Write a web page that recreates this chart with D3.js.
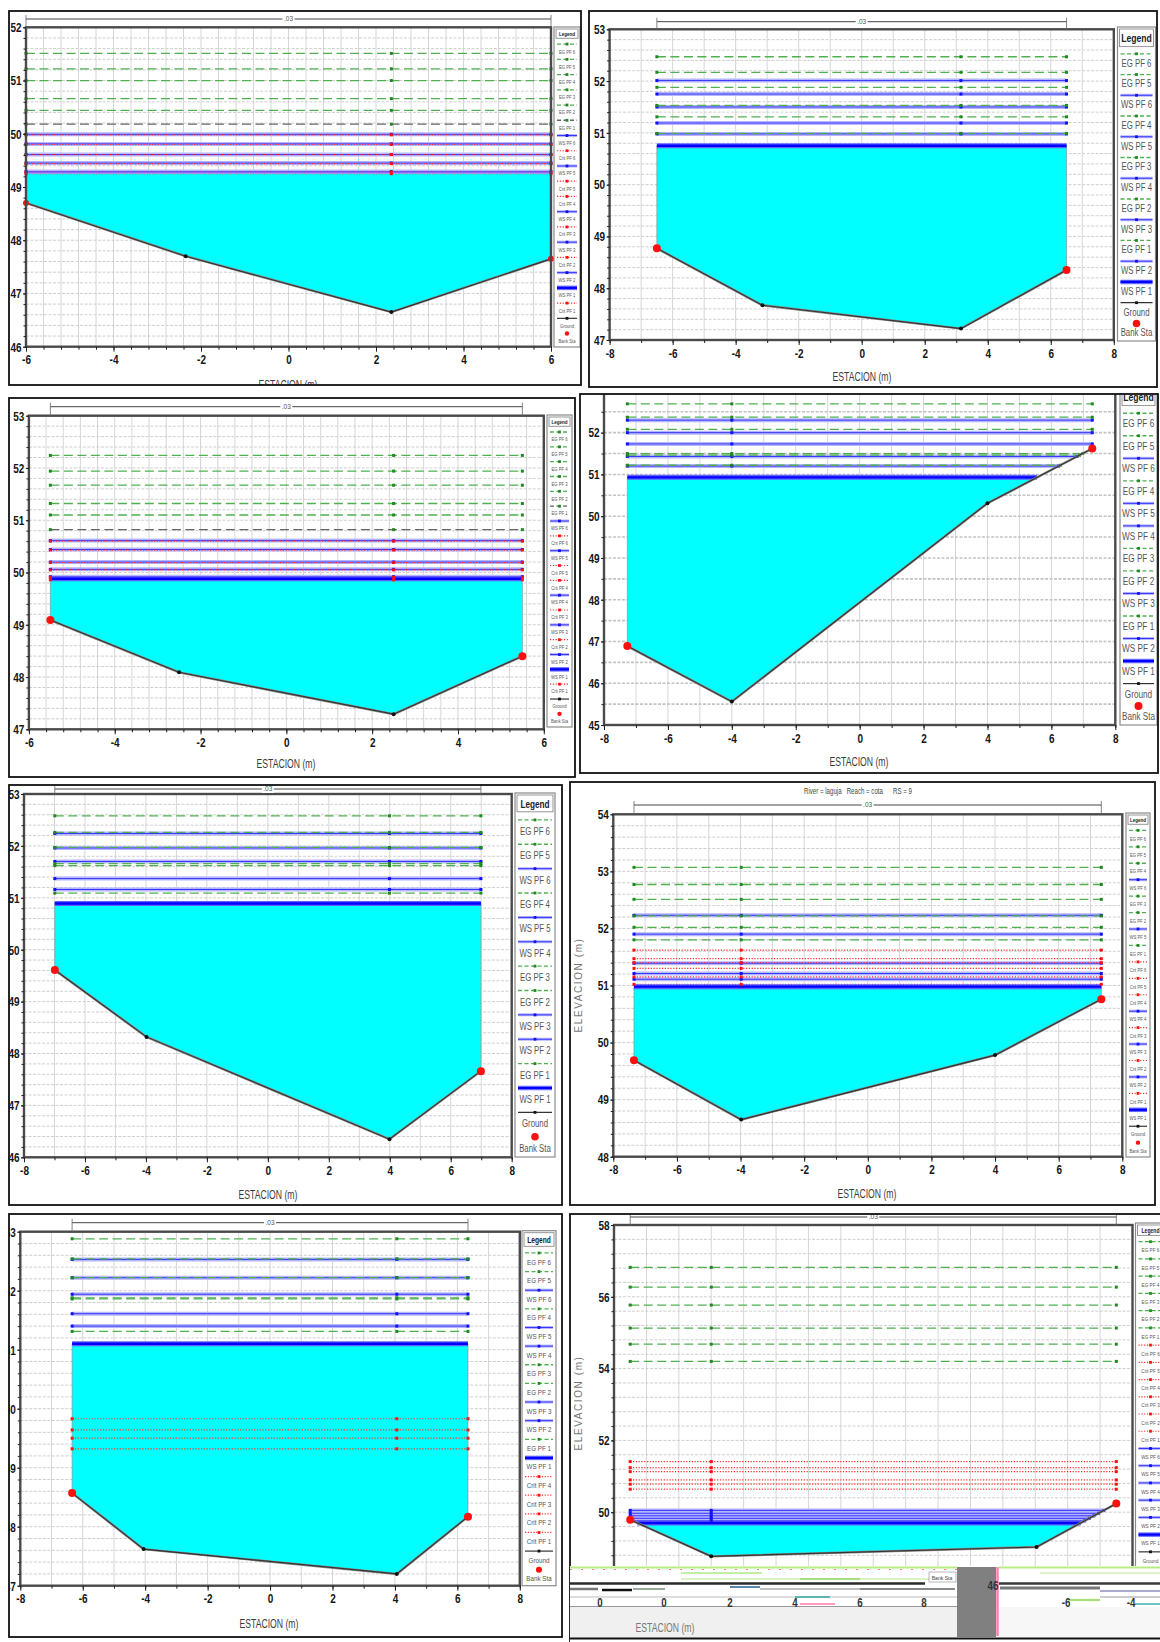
<!DOCTYPE html>
<html>
<head>
<meta charset="utf-8">
<script src="https://cdn.jsdelivr.net/npm/d3@7"></script>
<style>
  body { margin: 0; background: #fff; }
  svg { display: block; }
</style>
</head>
<body>
<svg id="chart" width="1160" height="1642"></svg>
<script>
// ---- data (station m, elevation m) ----
const sta1 = [-6, -2.35, 2.35, 6];
const elev1 = [48.7, 47.7, 46.65, 47.65];
const eg1 = [51.51, 51.22, 51.0, 50.66, 50.44, 50.18];   // PF6 .. PF1
const ws1 = [49.99, 49.81, 49.61, 49.45, 49.29, 49.27];
const crit1 = [49.98, 49.80, 49.61, 49.44, 49.28, 49.25];

const sta2 = [-6.5, -3.15, 3.15, 6.5];
const elev2 = [48.77, 47.67, 47.22, 48.35];
const eg2 = [52.47, 52.17, 51.88, 51.53, 51.31, 50.99];
const ws2 = [52.01, 51.75, 51.50, 51.19, 50.98, 50.75];
const crit2 = [];

const sta3 = [-5.5, -2.5, 2.5, 5.5];
const elev3 = [49.09, 48.09, 47.29, 48.4];
const eg3 = [52.24, 51.94, 51.67, 51.32, 51.10, 50.82];
const ws3 = [50.61, 50.44, 50.20, 50.06, 49.92, 49.88];
const crit3 = [50.60, 50.43, 50.19, 50.05, 49.91, 49.86];

const sta4 = [-7.27, -4, 4, 7.28];
const elev4 = [46.89, 45.56, 50.31, 51.62];
const eg4 = [52.69, 52.37, 52.08, 51.50, 51.46, 51.22];
const ws4 = [52.30, 52.0, 51.73, 51.43, 51.20, 50.93];
const crit4 = [];

const sta5 = [-6.99, -3.98, 3.99, 6.99];
const elev5 = [49.61, 48.32, 46.35, 47.66];
const eg5 = [52.58, 52.26, 51.97, 51.66, 51.62, 51.09];
const ws5 = [52.24, 51.96, 51.70, 51.37, 51.16, 50.89];
const crit5 = [];

const sta6 = [-7.35, -3.98, 4.0, 7.34];
const elev6 = [49.69, 48.65, 49.78, 50.76];
const eg6 = [53.07, 52.77, 52.51, 52.22, 52.02, 51.80];
const ws6 = [52.23, 51.90, 51.39, 51.21, 51.11, 50.98];
const crit6 = [51.62, 51.47, 51.40, 51.30, 51.15, 51.02];

const sta7 = [-6.34, -4.05, 4.06, 6.34];
const elev7 = [48.57, 47.62, 47.2, 48.17];
const eg7 = [52.88, 52.54, 52.22, 51.88, 51.86, 51.31];
const ws7 = [52.53, 52.22, 51.94, 51.61, 51.40, 51.10];
const crit7 = [49.83, 49.64, 49.50, 49.32];               // PF4 .. PF1

const sta8 = [-7.5, -5.0, 5.04, 7.5];
const elev8 = [49.79, 48.77, 49.03, 50.24];
const eg8 = [56.82, 56.27, 55.77, 55.13, 54.68, 54.20];
const ws8 = [50.05, 49.97, 49.90, 49.83, 49.76, 49.70];
const crit8 = [51.41, 51.24, 51.13, 50.90, 50.78, 50.64];

// legends, in the order they are listed in each picture
const legend1 = ['EG PF 6','EG PF 5','EG PF 4','EG PF 3','EG PF 2','EG PF 1','WS PF 6','Crit PF 6','WS PF 5','Crit PF 5','Crit PF 4','WS PF 4','Crit PF 3','WS PF 3','Crit PF 2','WS PF 2','WS PF 1','Crit PF 1','Ground','Bank Sta'];
const legend2 = ['EG PF 6','EG PF 5','WS PF 6','EG PF 4','WS PF 5','EG PF 3','WS PF 4','EG PF 2','WS PF 3','EG PF 1','WS PF 2','WS PF 1','Ground','Bank Sta'];
const legend3 = ['EG PF 6','EG PF 5','EG PF 4','EG PF 3','EG PF 2','EG PF 1','WS PF 6','Crit PF 6','WS PF 5','Crit PF 5','Crit PF 4','WS PF 4','Crit PF 3','WS PF 3','Crit PF 2','WS PF 2','WS PF 1','Crit PF 1','Ground','Bank Sta'];
const legend4 = ['EG PF 6','EG PF 5','WS PF 6','EG PF 4','WS PF 5','WS PF 4','EG PF 3','EG PF 2','WS PF 3','EG PF 1','WS PF 2','WS PF 1','Ground','Bank Sta'];
const legend5 = ['EG PF 6','EG PF 5','WS PF 6','EG PF 4','WS PF 5','WS PF 4','EG PF 3','EG PF 2','WS PF 3','WS PF 2','EG PF 1','WS PF 1','Ground','Bank Sta'];
const legend6 = ['EG PF 6','EG PF 5','EG PF 4','WS PF 6','EG PF 3','EG PF 2','WS PF 5','EG PF 1','Crit PF 6','Crit PF 5','Crit PF 4','WS PF 4','Crit PF 3','WS PF 3','Crit PF 2','WS PF 2','Crit PF 1','WS PF 1','Ground','Bank Sta'];
const legend7 = ['EG PF 6','EG PF 5','WS PF 6','EG PF 4','WS PF 5','WS PF 4','EG PF 3','EG PF 2','WS PF 3','WS PF 2','EG PF 1','WS PF 1','Crit PF 4','Crit PF 3','Crit PF 2','Crit PF 1','Ground','Bank Sta'];
const legend8 = ['EG PF 6','EG PF 5','EG PF 4','EG PF 3','EG PF 2','EG PF 1','Crit PF 6','Crit PF 5','Crit PF 4','Crit PF 3','Crit PF 2','Crit PF 1','WS PF 6','WS PF 5','WS PF 4','WS PF 3','WS PF 2','WS PF 1','Ground','Bank Sta'];

// tick labels
const xTicks6 = [-6, -4, -2, 0, 2, 4, 6];
const xTicks8 = [-8, -6, -4, -2, 0, 2, 4, 6, 8];
const yTicks1 = [46, 47, 48, 49, 50, 51, 52];
const yTicks2 = [47, 48, 49, 50, 51, 52, 53];
const yTicks3 = [47, 48, 49, 50, 51, 52, 53];
const yTicks4 = [45, 46, 47, 48, 49, 50, 51, 52];
const yTicks5 = [46, 47, 48, 49, 50, 51, 52, 53];
const yTicks6 = [48, 49, 50, 51, 52, 53, 54];
const yTicks7 = [47, 48, 49, 50, 51, 52, 53];
const yTicks8 = [48, 50, 52, 54, 56, 58];

const xTitle = 'ESTACION (m)';
const yTitle = 'ELEVACION (m)';
const title6 = 'River = laguja   Reach = cota      RS = 9';
const nLabel = '.03';

// ---- layout of the eight panels ----
const panels = [
  {sta: sta1, elev: elev1, eg: eg1, ws: ws1, crit: crit1, legend: legend1, xTicks: xTicks6, yTicks: yTicks1,
   xd: [-6, 6], yd: [46, 52], mark: 2, darkEG1: true, thickWS1: false,
   frame: [9, 11, 572, 374], plot: [26, 27.3, 551, 346.7], xGrid: 0.4, yGrid: 0.2,
   lg: [554, 27, 26, 320], lgFs: 5.4, hdFs: 5.8, dimY: 19, xT: [288, 388.5], bank: 3},
  {sta: sta2, elev: elev2, eg: eg2, ws: ws2, crit: crit2, legend: legend2, xTicks: xTicks8, yTicks: yTicks2,
   xd: [-8, 8], yd: [47, 53], mark: 2, thickWS1: true,
   frame: [589, 11, 568, 376], plot: [609.6, 29.3, 1113.8, 340], xGrid: 1, yGrid: 0.2,
   lg: [1117.5, 27, 38, 314], lgFs: 10, hdFs: 11, dimY: 21.7, xT: [862, 381], bank: 4},
  {sta: sta3, elev: elev3, eg: eg3, ws: ws3, crit: crit3, legend: legend3, xTicks: xTicks6, yTicks: yTicks3,
   xd: [-6, 6], yd: [47, 53], mark: 2, darkEG1: true, thickWS1: true,
   frame: [9, 398, 566, 379], plot: [28.9, 415.7, 543.8, 729.3], xGrid: 0.4, yGrid: 0.2,
   lg: [547, 415, 25, 312], lgFs: 5.4, hdFs: 5.8, dimY: 406.7, xT: [286, 768], bank: 4},
  {sta: sta4, elev: elev4, eg: eg4, ws: ws4, crit: crit4, legend: legend4, xTicks: xTicks8, yTicks: yTicks4,
   xd: [-8, 8], yd: [45, 53], mark: 1, thickWS1: true,
   frame: [580, 394, 578, 379], plot: [604, 390.9, 1115.3, 725], xGrid: 1, yGrid: 0.5,
   lg: [1120, 386, 37, 339], lgFs: 10.5, hdFs: 11, dimY: 382, xT: [859, 766], bank: 4},
  {sta: sta5, elev: elev5, eg: eg5, ws: ws5, crit: crit5, legend: legend5, xTicks: xTicks8, yTicks: yTicks5,
   xd: [-8, 8], yd: [46, 53], mark: 2, thickWS1: true,
   frame: [9, 785, 553, 420], plot: [24, 794, 511.7, 1157.3], xGrid: 1, yGrid: 0.2,
   lg: [515, 793, 40, 364], lgFs: 10, hdFs: 10.5, dimY: 789, xT: [268, 1199], bank: 4},
  {sta: sta6, elev: elev6, eg: eg6, ws: ws6, crit: crit6, legend: legend6, xTicks: xTicks8, yTicks: yTicks6,
   xd: [-8, 8], yd: [48, 54], mark: 1, thickWS1: true,
   frame: [570, 782, 585, 423], plot: [613.3, 814.3, 1122.3, 1156.7], xGrid: 1, yGrid: 0.2,
   lg: [1126, 813, 24, 344], lgFs: 5.4, hdFs: 5.8, dimY: 805, xT: [867, 1198], yT: [578, 985],
   title: [858, 794], bank: 4},
  {sta: sta7, elev: elev7, eg: eg7, ws: ws7, crit: crit7, legend: legend7, xTicks: xTicks8, yTicks: yTicks7,
   xd: [-8, 8], yd: [47, 53], mark: 2, thickWS1: true,
   frame: [9, 1214, 553, 423], plot: [20.3, 1231.7, 519.8, 1585.7], xGrid: 1, yGrid: 0.2,
   lg: [522, 1230.7, 34, 355], lgFs: 8, hdFs: 8.5, dimY: 1222.7, xT: [269, 1628], bank: 4},
  {sta: sta8, elev: elev8, eg: eg8, ws: ws8, crit: crit8, legend: legend8, xTicks: xTicks8, yTicks: yTicks8,
   xd: [-8, 8], yd: [48, 58], mark: 1, thickWS1: true,
   frame: [570, 1214, 592, 430], plot: [614, 1225, 1132.5, 1584], xGrid: 1, yGrid: 0.4,
   lg: [1135.5, 1223, 30, 361], lgFs: 6, hdFs: 6.5, dimY: 1217, yT: [578, 1403], bank: 4}
];

const FONT = "'Liberation Sans',Arial,sans-serif";
const C = {
  eg: '#4fb04f', egDark: '#666', egMark: '#1f8a1f',
  wsHalo: '#b6b6ff', ws: '#3535ff', wsMark: '#1010ff',
  crit: '#ff3030', critMark: '#ff1010',
  water: '#00ffff', ground: '#333', bank: '#ff1010'
};

const svg = d3.select('#chart');
const defs = svg.append('defs');

// squeeze text horizontally, like the condensed font of the original program
function narrow(sel, f, maxW) {
  sel.each(function() {
    let t = this.getComputedTextLength() * f;
    if (maxW && t > maxW) t = maxW;
    d3.select(this).attr('textLength', t).attr('lengthAdjust', 'spacingAndGlyphs');
  });
}

// horizontal extent of a level h over the channel (where the ground is below h)
function span(sta, elev, h) {
  const m = d3.minIndex(elev);
  let xl = sta[0], xr = sta[sta.length - 1];
  for (let i = m; i > 0; i--) {
    if (elev[i - 1] >= h) { xl = sta[i] + (h - elev[i]) * (sta[i - 1] - sta[i]) / (elev[i - 1] - elev[i]); break; }
  }
  for (let i = m; i < sta.length - 1; i++) {
    if (elev[i + 1] >= h) { xr = sta[i] + (h - elev[i]) * (sta[i + 1] - sta[i]) / (elev[i + 1] - elev[i]); break; }
  }
  return [xl, xr];
}

function steps(a, b, s) {
  const n = Math.round((b - a) / s);
  return d3.range(n + 1).map(k => a + k * s);
}

function styleOf(name, p) {
  if (name === 'Ground') return {stroke: C.ground, w: 1.2, mark: '#111'};
  if (name === 'Bank Sta') return {bank: true};
  if (name.startsWith('EG')) return {stroke: (p.darkEG1 && name === 'EG PF 1') ? C.egDark : C.eg, w: 1.3, dash: '4,2.5', mark: C.egMark};
  if (name === 'WS PF 1') return {stroke: '#0000ff', w: 3.5, halo: '#6a6aff'};
  if (name.startsWith('WS')) return {stroke: C.ws, w: 1, halo: C.wsHalo, mark: C.wsMark};
  return {stroke: C.crit, w: 1.2, dash: '1.2,1.6', mark: C.critMark};
}

panels.forEach((p, i) => {
  const [fx, fy, fw, fh] = p.frame;
  const [px0, py0, px1, py1] = p.plot;
  const clipId = 'frame' + i;
  defs.append('clipPath').attr('id', clipId)
    .append('rect').attr('x', fx).attr('y', fy).attr('width', fw).attr('height', fh);

  const g = svg.append('g').attr('clip-path', `url(#${clipId})`);
  g.append('rect').attr('x', fx).attr('y', fy).attr('width', fw).attr('height', fh).attr('fill', '#fff');

  const x = d3.scaleLinear().domain(p.xd).range([px0, px1]);
  const y = d3.scaleLinear().domain(p.yd).range([py1, py0]);

  // grid
  const grid = g.append('g');
  grid.selectAll('line.gx').data(steps(p.xd[0], p.xd[1], p.xGrid)).enter().append('line')
    .attr('x1', d => x(d)).attr('x2', d => x(d)).attr('y1', py0).attr('y2', py1)
    .attr('stroke', '#d6d6d6').attr('stroke-width', 1);
  grid.selectAll('line.gy').data(steps(p.yd[0], p.yd[1], p.yGrid)).enter().append('line')
    .attr('x1', px0).attr('x2', px1).attr('y1', d => y(d)).attr('y2', d => y(d))
    .attr('stroke', p.yGrid >= 0.5 ? '#c4c4c4' : '#cfcfcf').attr('stroke-width', p.yGrid >= 0.5 ? 1.6 : 1)
    .attr('stroke-dasharray', '3,1.5');

  // series
  const series = [];
  p.ws.forEach((v, k) => series.push({name: 'WS PF ' + (p.ws.length - k), v}));
  p.crit.forEach((v, k) => series.push({name: 'Crit PF ' + (p.crit.length - k), v}));
  p.eg.forEach((v, k) => series.push({name: 'EG PF ' + (p.eg.length - k), v}));
  series.forEach(s => { s.ext = span(p.sta, p.elev, s.v); s.st = styleOf(s.name, p); });

  // water (WS PF 1)
  const w1 = series.find(s => s.name === 'WS PF 1');
  const [wl, wr] = w1.ext;
  const wpts = [[wl, w1.v]];
  p.sta.forEach((s, k) => { if (s >= wl - 1e-9 && s <= wr + 1e-9 && p.elev[k] < w1.v) wpts.push([s, p.elev[k]]); });
  wpts.push([wr, w1.v]);
  g.append('path')
    .attr('d', d3.line().x(d => x(d[0])).y(d => y(d[1]))(wpts) + 'Z')
    .attr('fill', C.water).attr('stroke', '#7a9a9a').attr('stroke-width', 0.7);

  const lines = g.append('g');
  function hline(s, stroke, w, dash) {
    lines.append('line')
      .attr('x1', x(s.ext[0])).attr('x2', x(s.ext[1])).attr('y1', y(s.v)).attr('y2', y(s.v))
      .attr('stroke', stroke).attr('stroke-width', w).attr('stroke-dasharray', dash || null);
  }
  const wsOther = series.filter(s => s.name.startsWith('WS') && s !== w1);
  const crits = series.filter(s => s.name.startsWith('Crit'));
  const egs = series.filter(s => s.name.startsWith('EG'));
  wsOther.forEach(s => hline(s, s.st.halo, 4));
  wsOther.forEach(s => hline(s, s.st.stroke, s.st.w));
  crits.forEach(s => hline(s, s.st.stroke, s.st.w, s.st.dash));
  egs.forEach(s => hline(s, s.st.stroke, s.st.w, '9,4.5'));
  if (p.thickWS1) {
    hline(w1, '#5f5fff', 5);
    hline(w1, '#0000ff', 2.4);
  } else {
    hline(w1, '#a8a8ff', 2);
    hline(w1, '#8a4aff', 0.8);
  }

  // point markers on each profile line
  const marks = g.append('g');
  series.filter(s => s !== w1).forEach(s => {
    const xs = [s.ext[0], p.sta[p.mark], s.ext[1]].filter(v => v >= s.ext[0] - 1e-6 && v <= s.ext[1] + 1e-6);
    marks.selectAll(null).data(xs).enter().append('rect')
      .attr('x', d => x(d) - 1.5).attr('y', y(s.v) - 1.5).attr('width', 3).attr('height', 3)
      .attr('fill', s.st.mark);
  });

  // ground
  const gp = p.sta.map((s, k) => [s, p.elev[k]]);
  g.append('path').attr('d', d3.line().x(d => x(d[0])).y(d => y(d[1]))(gp))
    .attr('fill', 'none').attr('stroke', '#888').attr('stroke-width', 2.4);
  g.append('path').attr('d', d3.line().x(d => x(d[0])).y(d => y(d[1]))(gp))
    .attr('fill', 'none').attr('stroke', C.ground).attr('stroke-width', 1.1);
  g.selectAll(null).data(gp.slice(1, -1)).enter().append('circle')
    .attr('cx', d => x(d[0])).attr('cy', d => y(d[1])).attr('r', 2).attr('fill', '#111');
  g.selectAll(null).data([gp[0], gp[gp.length - 1]]).enter().append('circle')
    .attr('cx', d => x(d[0])).attr('cy', d => y(d[1])).attr('r', p.bank).attr('fill', C.bank);

  // plot border
  g.append('rect').attr('x', px0).attr('y', py0).attr('width', px1 - px0).attr('height', py1 - py0)
    .attr('fill', 'none').attr('stroke', '#4a4a4a').attr('stroke-width', 2.4);

  // axes
  const ax = g.append('g').attr('transform', `translate(0,${py1})`)
    .call(d3.axisBottom(x).tickValues(p.xTicks).tickSize(5).tickSizeOuter(0).tickPadding(3).tickFormat(d => String(d)));
  g.append('g').attr('transform', `translate(0,${py1})`)
    .call(d3.axisBottom(x).tickValues(steps(p.xd[0], p.xd[1], p.xGrid)).tickSize(3).tickFormat(''))
    .call(a => a.select('.domain').remove());
  const ay = g.append('g').attr('transform', `translate(${px0},0)`)
    .call(d3.axisLeft(y).tickValues(p.yTicks).tickSize(3).tickSizeOuter(0).tickPadding(1.5).tickFormat(d => String(d)));
  g.append('g').attr('transform', `translate(${px0},0)`)
    .call(d3.axisLeft(y).tickValues(steps(p.yd[0], p.yd[1], p.yGrid)).tickSize(2.5).tickFormat(''))
    .call(a => a.select('.domain').remove());
  [ax, ay].forEach(a => {
    a.select('.domain').remove();
    a.selectAll('text').attr('font-family', FONT).attr('font-size', 13.5).attr('font-weight', 'bold').attr('fill', '#151515')
      .call(narrow, 0.74);
  });
  g.selectAll('.tick line').attr('stroke', '#222');

  // manning n bar on top
  const d0 = x(p.sta[0]), d1 = x(p.sta[p.sta.length - 1]);
  const dim = g.append('g');
  dim.append('line').attr('x1', d0).attr('x2', d1).attr('y1', p.dimY).attr('y2', p.dimY)
    .attr('stroke', '#444').attr('stroke-width', 1);
  dim.selectAll(null).data([d0, d1]).enter().append('line')
    .attr('x1', d => d).attr('x2', d => d).attr('y1', p.dimY - 4).attr('y2', py0)
    .attr('stroke', '#666').attr('stroke-width', 0.8);
  const mx = (d0 + d1) / 2;
  dim.append('rect').attr('x', mx - 6).attr('y', p.dimY - 4).attr('width', 12).attr('height', 8).attr('fill', '#fff');
  dim.append('text').attr('x', mx).attr('y', p.dimY + 2.2).attr('text-anchor', 'middle')
    .attr('font-family', FONT).attr('font-size', 6.5).attr('fill', '#555').text(nLabel);

  // titles
  if (p.xT) {
    g.append('text').attr('x', p.xT[0]).attr('y', p.xT[1]).attr('text-anchor', 'middle')
      .attr('font-family', FONT).attr('font-size', 12).attr('fill', '#3a3a3a').text(xTitle)
      .call(narrow, 0.72);
  }
  if (p.yT) {
    g.append('text').attr('transform', `translate(${p.yT[0] + 4},${p.yT[1]}) rotate(-90)`)
      .attr('text-anchor', 'middle').attr('font-family', FONT)
      .attr('font-size', 10).attr('letter-spacing', 1.6).attr('fill', '#777').text(yTitle);
  }
  if (p.title) {
    g.append('text').attr('x', p.title[0]).attr('y', p.title[1]).attr('text-anchor', 'middle')
      .attr('font-family', FONT).attr('font-size', 9).attr('fill', '#444').attr('xml:space', 'preserve').text(title6)
      .call(narrow, 0.68);
  }

  // legend
  const [lx, ly, lw, lh] = p.lg;
  const L = g.append('g');
  L.append('rect').attr('x', lx).attr('y', ly).attr('width', lw).attr('height', lh)
    .attr('fill', '#fff').attr('stroke', '#8a8a8a').attr('stroke-width', 1.2);
  const hh = p.hdFs * 1.6;
  L.append('rect').attr('x', lx + 2).attr('y', ly + 2).attr('width', lw - 4).attr('height', hh)
    .attr('fill', '#fff').attr('stroke', '#8a8a8a').attr('stroke-width', 0.9);
  L.append('text').attr('x', lx + lw / 2).attr('y', ly + 2 + hh * 0.75).attr('text-anchor', 'middle')
    .attr('font-family', FONT).attr('font-size', p.hdFs).attr('font-weight', 'bold').attr('fill', '#222').text('Legend')
    .call(narrow, 0.78, lw - 6);
  const top = ly + hh + 4;
  const per = (lh - hh - 6) / p.legend.length;
  p.legend.forEach((name, j) => {
    const st = styleOf(name, p);
    const yl = top + j * per + per * 0.25;
    const e = L.append('g');
    if (!st.bank) {
      if (st.halo) e.append('line').attr('x1', lx + 3).attr('x2', lx + lw - 3).attr('y1', yl).attr('y2', yl)
        .attr('stroke', st.halo).attr('stroke-width', name === 'WS PF 1' ? 4.5 : 3);
      e.append('line').attr('x1', lx + 3).attr('x2', lx + lw - 3).attr('y1', yl).attr('y2', yl)
        .attr('stroke', st.stroke).attr('stroke-width', name === 'WS PF 1' ? 2.2 : st.w)
        .attr('stroke-dasharray', st.dash || null);
      if (st.mark) e.append('rect').attr('x', lx + lw / 2 - 1.4).attr('y', yl - 1.4)
        .attr('width', 2.8).attr('height', 2.8).attr('fill', st.mark);
    } else {
      e.append('circle').attr('cx', lx + lw / 2).attr('cy', yl).attr('r', Math.max(2.2, p.lgFs * 0.38)).attr('fill', C.bank);
    }
    e.append('text').attr('x', lx + lw / 2).attr('y', yl + per * 0.62).attr('text-anchor', 'middle')
      .attr('font-family', FONT).attr('font-size', p.lgFs).attr('fill', '#555').text(name)
      .call(narrow, 0.78, lw - 4);
  });

  // panel frame
  svg.append('rect').attr('x', fx).attr('y', fy).attr('width', fw).attr('height', fh)
    .attr('fill', 'none').attr('stroke', '#111').attr('stroke-width', 1.8);
});

// ---- the damaged strip at the foot of the last picture ----
const glitchBars = [
  [570, 957, 1567.5, '#b8ec84', 1.8], [999, 1160, 1567.5, '#b8ec84', 1.8],
  [681, 762, 1573, '#c6eeaa', 2], [681, 955, 1579, '#cdeeb5', 1.5], [800, 860, 1579, '#a8dc80', 2],
  [1040, 1160, 1573, '#cfeebb', 1.5],
  [570, 925, 1583.5, '#2a2a2a', 2.4], [999, 1160, 1583.5, '#3a3a3a', 2.4],
  [570, 598, 1589, '#777', 2.5], [602, 632, 1590, '#111', 2.5], [633, 665, 1589, '#9a9', 2],
  [730, 760, 1587, '#58a', 2], [760, 860, 1589, '#aaa', 1.5], [860, 955, 1589, '#888', 2],
  [1000, 1100, 1588, '#777', 3], [1100, 1160, 1591, '#aac', 2],
  [570, 957, 1597, '#bbb', 1.2], [570, 957, 1606.5, '#999', 1.2],
  [795, 830, 1597, '#3aa', 1.6], [800, 835, 1604, '#f7a', 1.6],
  [1068, 1100, 1600, '#a8e078', 2.2], [1100, 1160, 1597, '#999', 1.2], [1135, 1160, 1604, '#3aa', 1.4],
  [570, 1160, 1638.5, '#111', 2]
];
const glitchText = [['0', 600, 1607], ['0', 664, 1607], ['2', 730, 1607], ['4', 795, 1607], ['6', 860, 1607],
  ['8', 924, 1607], ['46', 993, 1590], ['-6', 1066, 1607], ['-4', 1131, 1607]];
const gl = svg.append('g');
gl.append('rect').attr('x', 570).attr('y', 1566).attr('width', 590).attr('height', 76).attr('fill', '#fff');
gl.append('rect').attr('x', 570).attr('y', 1607).attr('width', 387).attr('height', 31).attr('fill', '#f0f0f0');
gl.append('rect').attr('x', 999).attr('y', 1607).attr('width', 161).attr('height', 31).attr('fill', '#f7f7f7');
gl.selectAll(null).data(glitchBars).enter().append('line')
  .attr('x1', d => d[0]).attr('x2', d => d[1]).attr('y1', d => d[2]).attr('y2', d => d[2])
  .attr('stroke', d => d[3]).attr('stroke-width', d => d[4]);
gl.append('line').attr('x1', 570).attr('x2', 957).attr('y1', 1569.5).attr('y2', 1569.5)
  .attr('stroke', '#ff7070').attr('stroke-width', 0.9).attr('stroke-dasharray', '2,9');
gl.append('rect').attr('x', 929).attr('y', 1572).attr('width', 27).attr('height', 10)
  .attr('fill', '#fff').attr('stroke', '#999').attr('stroke-width', 0.7);
gl.append('text').attr('x', 942).attr('y', 1580).attr('text-anchor', 'middle')
  .attr('font-family', FONT).attr('font-size', 6).attr('fill', '#444').text('Bank Sta')
  .call(narrow, 0.85, 24);
gl.append('rect').attr('x', 957).attr('y', 1567).attr('width', 39).attr('height', 71).attr('fill', '#808080');
gl.append('line').attr('x1', 997.5).attr('x2', 997.5).attr('y1', 1567).attr('y2', 1636)
  .attr('stroke', '#ff7fb0').attr('stroke-width', 2.5);
gl.selectAll(null).data(glitchText).enter().append('text')
  .attr('x', d => d[1]).attr('y', d => d[2]).attr('text-anchor', 'middle')
  .attr('font-family', FONT).attr('font-size', 13).attr('font-weight', 'bold').attr('fill', '#333').text(d => d[0])
  .call(narrow, 0.75);
gl.append('text').attr('x', 665).attr('y', 1632).attr('text-anchor', 'middle')
  .attr('font-family', FONT).attr('font-size', 12).attr('fill', '#777').text(xTitle)
  .call(narrow, 0.72);
</script>
</body>
</html>
